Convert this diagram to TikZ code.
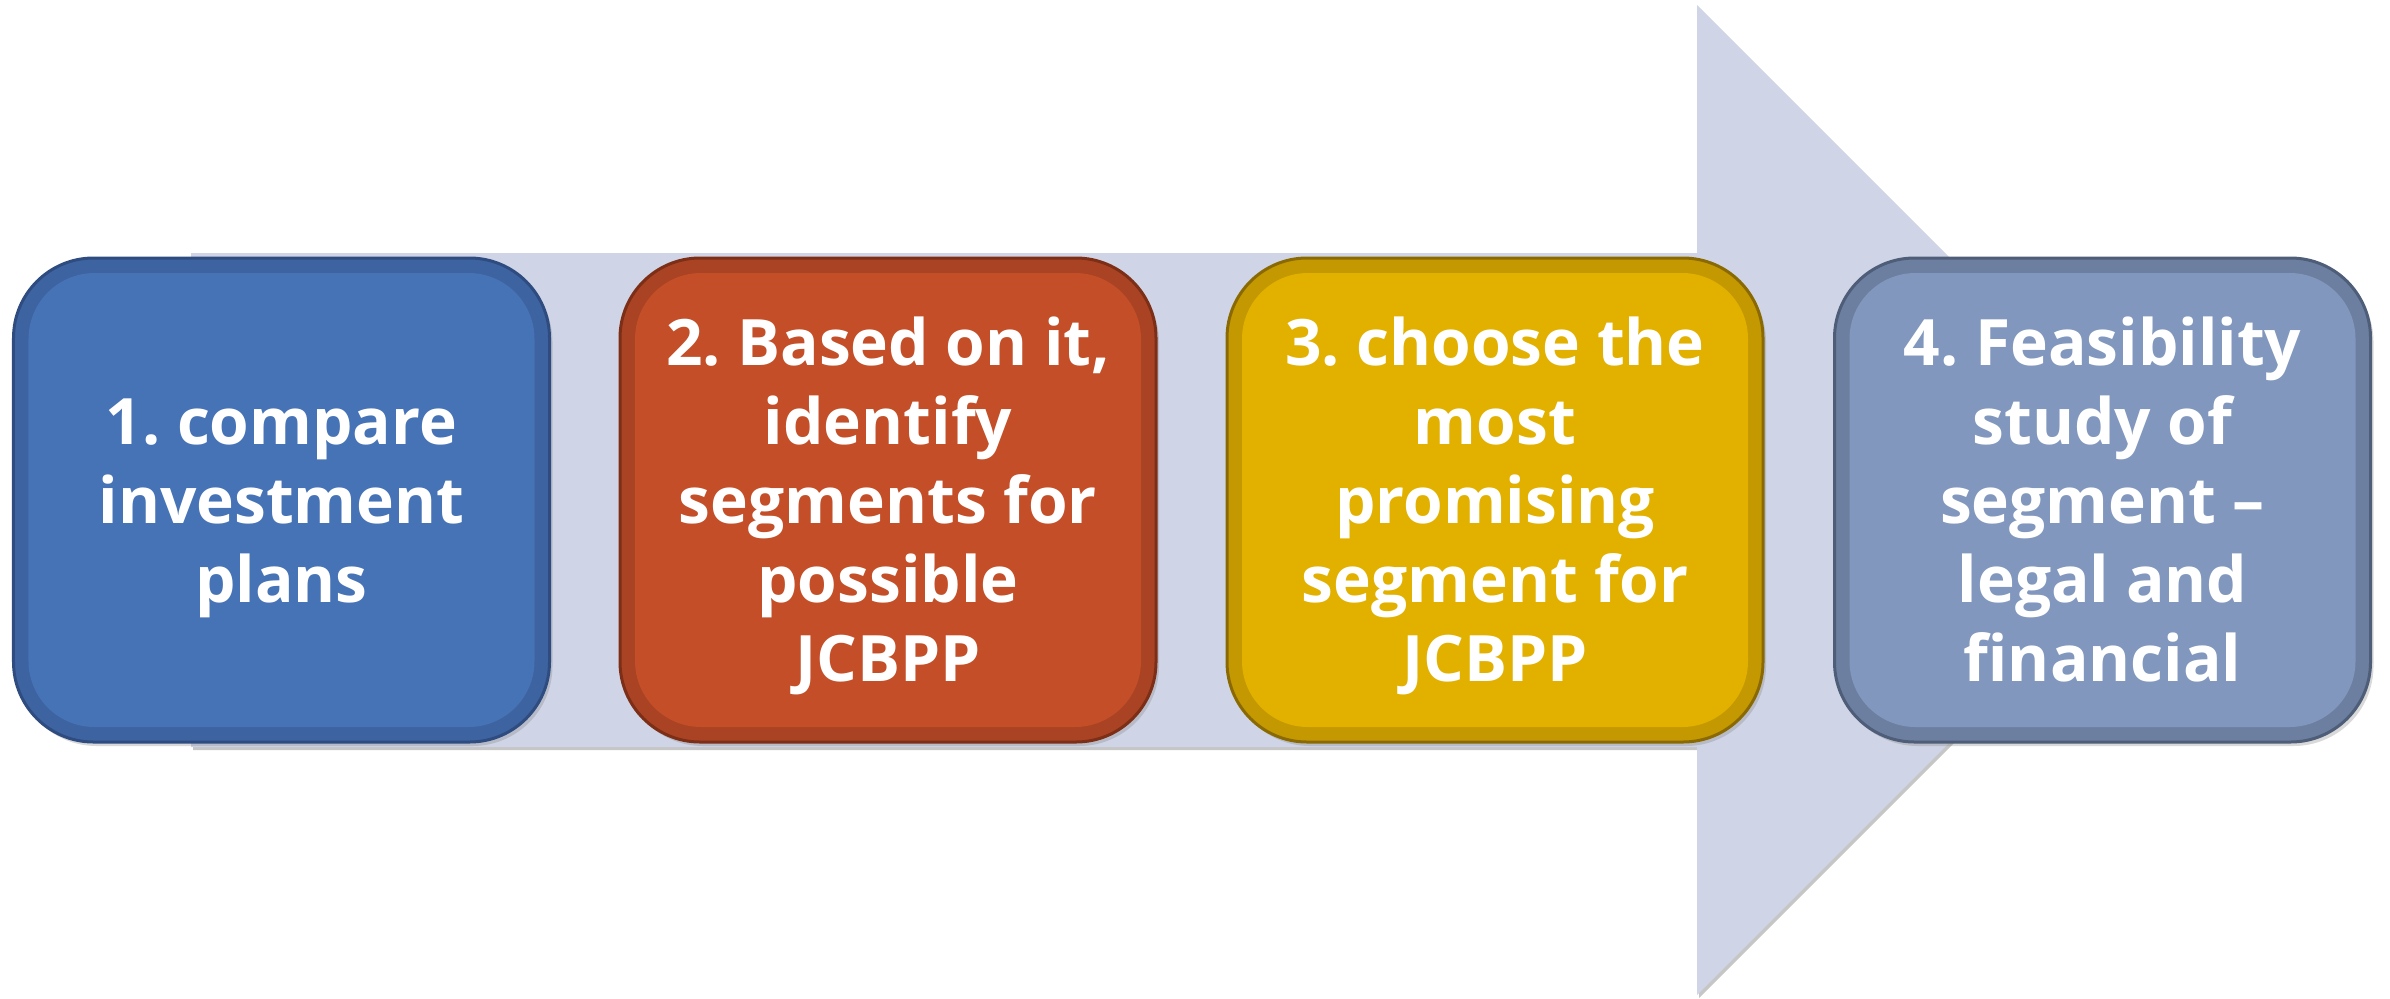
\documentclass[tikz,border=0pt]{standalone}
\usepackage{fontspec}
\setmainfont{Open Sans}
\usetikzlibrary{shadows}
\frenchspacing
\definecolor{arrowfill}{HTML}{CFD5E6}
\definecolor{aIn}{HTML}{4672B6}\definecolor{aBand}{HTML}{3E63A1}\definecolor{aOut}{HTML}{2E4C80}
\definecolor{bIn}{HTML}{C34E28}\definecolor{bBand}{HTML}{A94323}\definecolor{bOut}{HTML}{7C2E16}
\definecolor{cIn}{HTML}{E2B100}\definecolor{cBand}{HTML}{C49800}\definecolor{cOut}{HTML}{8A6A00}
\definecolor{dIn}{HTML}{8197BD}\definecolor{dBand}{HTML}{6C7FA0}\definecolor{dOut}{HTML}{4E5D78}
\newcommand\mytop{\rule{0pt}{63bp}}
\newcommand\mybot{\rule[-16bp]{0pt}{16bp}}
\tikzset{
  stepbox/.style n args={3}{
    rectangle, rounded corners=80bp, minimum width=536bp, minimum height=484bp,
    fill=#2, draw=#3, line width=3bp, text=white, align=center, inner sep=0pt,
    font=\fontsize{64bp}{79bp}\selectfont\bfseries,
    drop shadow={opacity=0.3, shadow xshift=3bp, shadow yshift=-4bp},
    path picture={\fill[#1, rounded corners=66bp]
      ([shift={(15bp,-15bp)}]path picture bounding box.north west) rectangle
      ([shift={(-15bp,15bp)}]path picture bounding box.south east);}
  },
  bigarrow/.style={fill=arrowfill, drop shadow={opacity=0.45, shadow xshift=2bp, shadow yshift=-3bp}}
}
\begin{document}
\begin{tikzpicture}[x=1bp,y=-1bp]
\useasboundingbox (0,0) rectangle (2390,998);
\fill[bigarrow] (191,253) -- (1697,253) -- (1697,5) -- (2192,500) -- (1697,995) -- (1697,747) -- (191,747) -- cycle;
\node[stepbox={aIn}{aBand}{aOut}] (b1) at (281.5,500) {\mytop 1. compare\\investment\\plans\mybot};
\node[stepbox={bIn}{bBand}{bOut}] (b2) at (888,500) {\mytop 2. Based on it,\\identify\\segments for\\possible\\JCBPP\mybot};
\node[stepbox={cIn}{cBand}{cOut}] (b3) at (1495,500) {\mytop 3. choose the\\most\\promising\\segment for\\JCBPP\mybot};
\node[stepbox={dIn}{dBand}{dOut}] (b4) at (2102.5,500) {\mytop 4. Feasibility\\study of\\segment –\\legal and\\financial\mybot};
\end{tikzpicture}
\end{document}
